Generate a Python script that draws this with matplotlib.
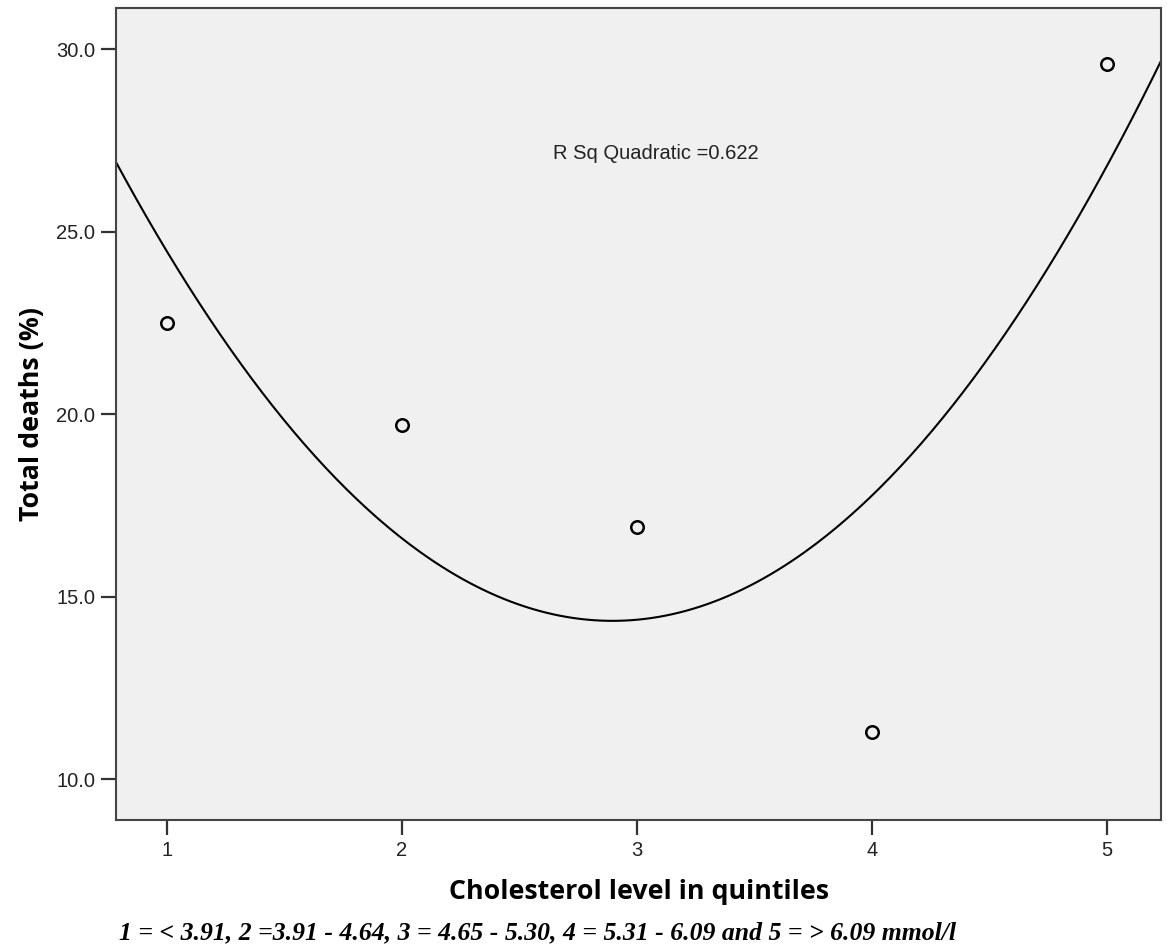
import numpy as np
import matplotlib
matplotlib.use('Agg')
import matplotlib.pyplot as plt

# quintile vs total deaths
quintiles = [1, 2, 3, 4, 5]
deaths = [22.5, 19.7, 16.9, 11.3, 29.6]
yticks = [10.0, 15.0, 20.0, 25.0, 30.0]

# quadratic fit
coef = np.polyfit(quintiles, deaths, 2)
pred = np.polyval(coef, quintiles)
ss_res = np.sum((np.array(deaths) - pred) ** 2)
ss_tot = np.sum((np.array(deaths) - np.mean(deaths)) ** 2)
r2 = 1 - ss_res / ss_tot

plt.rcParams['font.family'] = ['Liberation Sans', 'DejaVu Sans']

fig = plt.figure(figsize=(11.67, 9.5), dpi=100)
ax = fig.add_axes([0.0994, 0.1368, 0.8955, 0.8548])
ax.set_facecolor('#f0f0f0')

xs = np.linspace(0.78, 5.24, 300)
ax.plot(xs, np.polyval(coef, xs), color='black', lw=1.5)
ax.plot(quintiles, deaths, 'o', ms=9, mfc='none', mec='black', mew=1.8)

ax.set_xlim(0.784, 5.2316)
ax.set_ylim(8.885, 31.13)
ax.set_xticks(quintiles)
ax.set_yticks(yticks)
ax.set_yticklabels(['%.1f' % v for v in yticks])
ax.tick_params(length=10.5, width=1.6, color='#333333', labelcolor='#222222', labelsize=14.5, pad=4.5)
for s in ax.spines.values():
    s.set_color('#444444')
    s.set_linewidth(1.5)

ax.text(3.083, 27.15, 'R Sq Quadratic =%.3f' % r2, fontsize=14.5, ha='center', va='center', color='#222222')

ax.set_xlabel('Cholesterol level in quintiles', family='Open Sans', fontsize=19.3, fontweight='bold', labelpad=14)
ax.set_ylabel('Total deaths (%)', family='Open Sans', fontsize=19.3, fontweight='bold', labelpad=8)

fig.text(0.461, 0.018, '1 = < 3.91, 2 =3.91 - 4.64, 3 = 4.65 - 5.30, 4 = 5.31 - 6.09 and 5 = > 6.09 mmol/l',
         family='Liberation Serif', fontsize=18.5, fontweight='bold', style='italic', ha='center', va='center')

plt.savefig('out.png', dpi=100)
